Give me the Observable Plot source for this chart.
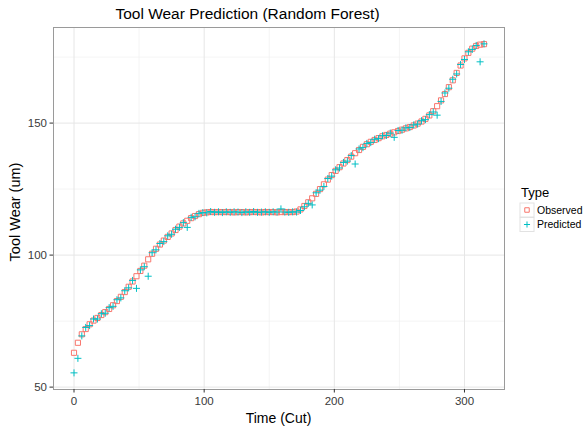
<!DOCTYPE html>
<html><head><meta charset="utf-8">
<script src="https://cdn.jsdelivr.net/npm/d3@7"></script>
<script src="https://cdn.jsdelivr.net/npm/@observablehq/plot@0.6"></script>
<style>
body{margin:0;background:#fff;font-family:"Liberation Sans",Arial,sans-serif;}
#wrap{position:relative;width:587px;height:431px;overflow:hidden;}
#wrap > svg.plot{position:absolute;left:0;top:0;}
.t{position:absolute;white-space:nowrap;color:#000;line-height:1em;}
</style></head><body>
<div id="wrap"></div>
<script>
// Cut index (every 3rd cut shown)
const cuts = d3.range(0, 316, 3);
const observed = [
  63.0,66.8,70.0,72.0,73.8,75.2,76.2,77.3,78.4,79.6,
  81.0,82.6,84.2,86.0,88.0,90.0,92.0,94.0,96.0,98.4,
  100.5,102.4,104.0,105.5,106.9,108.2,109.5,110.8,112.0,113.0,
  114.0,114.8,115.5,116.0,116.2,116.3,116.3,116.3,116.3,116.3,
  116.3,116.2,116.3,116.3,116.2,116.3,116.3,116.3,116.2,116.3,
  116.3,116.3,116.2,116.3,116.3,116.3,116.3,116.5,117.3,118.6,
  120.0,121.5,123.2,125.0,126.8,128.6,130.3,131.9,133.3,134.7,
  136.0,137.3,138.6,139.8,141.0,142.0,142.9,143.6,144.3,145.0,
  145.5,146.0,146.5,147.0,147.5,148.0,148.5,149.1,149.8,150.6,
  151.6,152.9,154.5,156.4,158.6,161.0,163.6,166.2,169.0,171.8,
  174.5,176.6,178.2,179.2,179.7,179.9
];
const predicted = [
  55.4,60.9,69.4,72.6,73.3,75.8,75.8,77.8,78.0,80.1,
  80.6,83.1,83.8,86.5,87.6,90.4,87.4,94.4,95.6,92.0,
  100.9,102.0,104.4,105.1,107.3,107.9,109.8,110.5,112.3,110.5,
  114.3,114.5,115.8,116.1,116.0,116.5,116.2,116.4,116.1,116.4,
  116.2,116.4,116.3,116.1,116.4,116.2,116.5,116.2,116.3,116.4,
  116.2,116.4,116.3,117.5,116.3,116.2,116.4,116.3,116.9,118.3,
  119.6,119.0,123.6,124.6,126.0,129.0,129.9,132.3,133.0,135.1,
  135.6,137.7,134.5,140.2,140.7,142.3,142.6,143.9,144.1,145.2,
  145.3,146.2,144.6,147.2,147.3,148.2,148.3,149.3,149.6,150.9,
  151.3,153.2,154.2,153.0,158.2,161.4,163.2,166.6,168.6,172.2,
  174.1,177.0,177.9,179.4,173.2,180.0
];
const xTicks = [0, 100, 200, 300];
const xMinor = [50, 150, 250];
const yTicks = [50, 100, 150];
const yMinor = [75, 125, 175];
const typeLabels = ["Observed", "Predicted"];
const colors = ["#F8766D", "#00BFC4"];

const chart = Plot.plot({
  width: 587, height: 431,
  marginLeft: 53, marginRight: 83, marginTop: 27, marginBottom: 42,
  style: {fontFamily: "'Liberation Sans', Arial, sans-serif", fontSize: "11.5px", background: "transparent", color: "#3a3a3a"},
  x: {domain: [-15.75, 330.75]},
  y: {domain: [49.1, 186.2]},
  marks: [
    Plot.gridX(xMinor, {stroke: "#efefef", strokeOpacity: 1, strokeWidth: 0.7}),
    Plot.gridY(yMinor, {stroke: "#efefef", strokeOpacity: 1, strokeWidth: 0.7}),
    Plot.gridX(xTicks, {stroke: "#e6e6e6", strokeOpacity: 1, strokeWidth: 1}),
    Plot.gridY(yTicks, {stroke: "#e6e6e6", strokeOpacity: 1, strokeWidth: 1}),
    Plot.dot(cuts, {x: cuts, y: observed, symbol: "square", r: 2.9, stroke: colors[0], fill: "none", strokeWidth: 1}),
    Plot.dot(cuts, {x: cuts, y: predicted, symbol: "plus", r: 2.4, stroke: colors[1], fill: "none", strokeWidth: 1}),
    Plot.frame({stroke: "#9a9a9a", strokeWidth: 1}),
    Plot.axisX(xTicks, {tickSize: 3.5, tickPadding: 4, label: null, stroke: "#333", fill: "#3a3a3a"}),
    Plot.axisY(yTicks, {tickSize: 3.5, tickPadding: 3, label: null, stroke: "#333", fill: "#3a3a3a"})
  ]
});
chart.classList.add("plot");
const wrap = document.getElementById("wrap");
wrap.appendChild(chart);

function addText(txt, css) {
  const d = document.createElement("div");
  d.className = "t";
  d.textContent = txt;
  Object.assign(d.style, css);
  wrap.appendChild(d);
  return d;
}
addText("Tool Wear Prediction (Random Forest)", {left: "0px", width: "495px", textAlign: "center", top: "6px", fontSize: "15.5px"});
addText("Time (Cut)", {left: "53px", width: "451px", textAlign: "center", top: "411px", fontSize: "14px"});
addText("Tool Wear (um)", {left: "15px", top: "212px", fontSize: "14.5px", transform: "translate(-50%,-50%) rotate(-90deg)"});
addText("Type", {left: "521px", top: "186px", fontSize: "13px"});
typeLabels.forEach((lab, i) => addText(lab, {left: "537px", top: (204.5 + i * 14.5) + "px", fontSize: "10.5px"}));

// legend keys
const ns = "http://www.w3.org/2000/svg";
const ks = document.createElementNS(ns, "svg");
ks.setAttribute("width", 17); ks.setAttribute("height", 32);
Object.assign(ks.style, {position: "absolute", left: "519px", top: "202px"});
typeLabels.forEach((lab, i) => {
  const r = document.createElementNS(ns, "rect");
  r.setAttribute("x", 1); r.setAttribute("y", 1 + i * 14.5);
  r.setAttribute("width", 14); r.setAttribute("height", 14);
  r.setAttribute("fill", "#fff"); r.setAttribute("stroke", "#e2e2e2");
  ks.appendChild(r);
  const p = document.createElementNS(ns, "path");
  const sym = i === 0 ? d3.symbol(d3.symbolSquare, 20) : d3.symbol(d3.symbolPlus, 14);
  p.setAttribute("d", sym());
  p.setAttribute("transform", `translate(8,${8 + i * 14.5})`);
  p.setAttribute("fill", "none"); p.setAttribute("stroke", colors[i]); p.setAttribute("stroke-width", 1);
  ks.appendChild(p);
});
wrap.appendChild(ks);
</script>
</body></html>
